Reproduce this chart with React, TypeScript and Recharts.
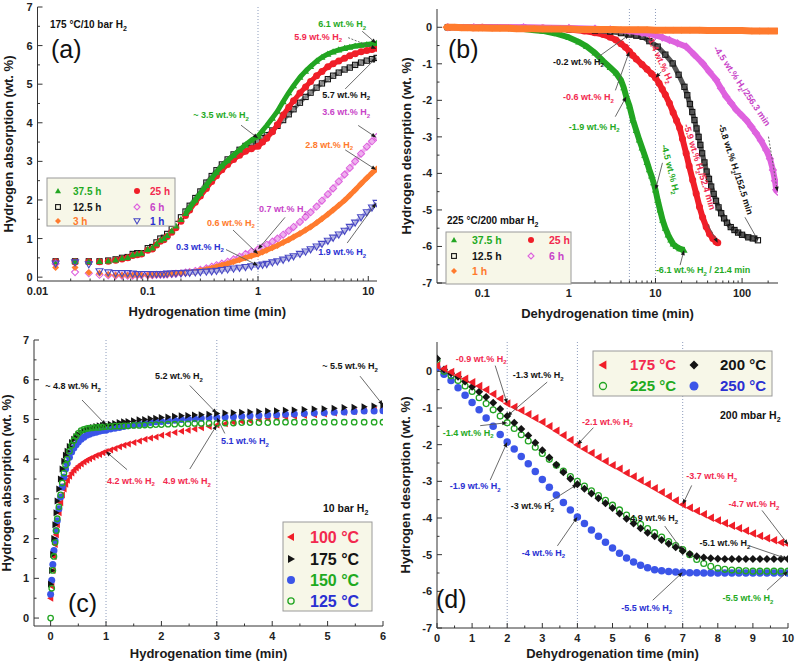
import React from 'react';
import { ComposedChart, Scatter, XAxis, YAxis, ReferenceLine, ReferenceDot } from 'recharts';

const FONT = '"Liberation Sans", Arial, Helvetica, sans-serif';

const GREEN = '#22a522';
const RED = '#f01e28';
const BLACK = '#141414';
const MAGENTA = '#de62de';
const ORANGE = '#ff7b2e';
const INDIGO = '#4848c4';
const BLUE = '#3b55e8';
const T_GREEN = '#1faa1f';
const T_RED = '#f2294f';
const T_MAG = '#c844c8';
const T_ORANGE = '#ff7a2c';
const T_BLUE = '#2a30d2';
const GUIDE = '#8d9cbc';

// ---- (a) absorption at 175 °C / 10 bar, log time (min)
const timeA = [
  0.0146, 0.0219, 0.0292, 0.0365, 0.0438, 0.0511, 0.0584, 0.0657, 0.073, 0.0803, 0.0876,
  0.1, 0.11, 0.12, 0.13, 0.14, 0.15, 0.165, 0.18, 0.2, 0.22, 0.24, 0.27, 0.3, 0.34, 0.38, 0.42, 0.47, 0.53, 0.6, 0.68, 0.77, 0.87, 1,
  1.1, 1.2, 1.35, 1.5, 1.69, 1.9, 2.1, 2.4, 2.7, 3, 3.4, 3.8, 4.3, 4.8, 5.4, 6.1, 6.8, 7.6, 8.6, 9.7, 10.8, 11.9,
];
const absA375 = [
  0.4, 0.41, 0.4, 0.41, 0.42, 0.45, 0.49, 0.51, 0.58, 0.6, 0.62,
  0.72, 0.76, 0.86, 0.96, 1.0, 1.08, 1.2, 1.33, 1.5, 1.65, 1.8, 2.0, 2.17, 2.38, 2.56, 2.72, 2.88, 3.02, 3.16, 3.3, 3.43, 3.55, 3.65,
  3.8, 3.93, 4.12, 4.3, 4.55, 4.78, 4.96, 5.18, 5.34, 5.46, 5.6, 5.7, 5.78, 5.84, 5.89, 5.93, 5.96, 5.99, 6.01, 6.03, 6.05, 6.06,
];
const absA25 = [
  0.4, 0.4, 0.4, 0.4, 0.41, 0.44, 0.47, 0.5, 0.56, 0.58, 0.6,
  0.7, 0.73, 0.83, 0.93, 0.97, 1.05, 1.16, 1.28, 1.45, 1.6, 1.74, 1.94, 2.1, 2.3, 2.48, 2.63, 2.78, 2.92, 3.05, 3.16, 3.26, 3.33, 3.39,
  3.5, 3.6, 3.77, 3.95, 4.2, 4.4, 4.57, 4.77, 4.93, 5.07, 5.22, 5.33, 5.45, 5.53, 5.6, 5.67, 5.74, 5.79, 5.84, 5.87, 5.9, 5.93,
];
const absA125 = [
  0.41, 0.41, 0.41, 0.41, 0.43, 0.46, 0.5, 0.52, 0.6, 0.62, 0.62,
  0.75, 0.78, 0.9, 1.0, 1.02, 1.12, 1.25, 1.38, 1.55, 1.7, 1.85, 2.05, 2.22, 2.45, 2.62, 2.77, 2.92, 3.05, 3.18, 3.3, 3.4, 3.47, 3.52,
  3.6, 3.68, 3.8, 3.92, 4.07, 4.22, 4.35, 4.52, 4.67, 4.78, 4.91, 5.02, 5.13, 5.22, 5.3, 5.38, 5.43, 5.5, 5.56, 5.61, 5.65, 5.68,
];
const absA6 = [
  0.35, 0.13, 0.1, 0.06, 0.05, 0.04, 0.04, 0.04, 0.04, 0.05, 0.05,
  0.05, 0.05, 0.06, 0.06, 0.07, 0.07, 0.08, 0.09, 0.1, 0.12, 0.13, 0.16, 0.19, 0.23, 0.27, 0.31, 0.35, 0.4, 0.46, 0.53, 0.6, 0.66, 0.72,
  0.78, 0.84, 0.92, 1.0, 1.1, 1.2, 1.3, 1.43, 1.56, 1.68, 1.83, 1.98, 2.15, 2.3, 2.48, 2.66, 2.83, 3.0, 3.2, 3.38, 3.52, 3.63,
];
const absA3 = [
  0.25, 0.25, 0.12, 0.1, 0.07, 0.05, 0.05, 0.05, 0.05, 0.05, 0.05,
  0.05, 0.05, 0.06, 0.06, 0.07, 0.07, 0.08, 0.09, 0.1, 0.11, 0.12, 0.14, 0.17, 0.2, 0.23, 0.27, 0.31, 0.35, 0.4, 0.45, 0.5, 0.55, 0.6,
  0.65, 0.7, 0.76, 0.82, 0.9, 0.97, 1.04, 1.13, 1.22, 1.3, 1.41, 1.51, 1.63, 1.74, 1.86, 1.99, 2.12, 2.26, 2.42, 2.57, 2.7, 2.8,
];
const absA1 = [
  0.35, 0.38, 0.33, 0.15, 0.12, 0.1, 0.1, 0.1, 0.09, 0.08, 0.08,
  0.08, 0.08, 0.08, 0.08, 0.08, 0.09, 0.09, 0.1, 0.1, 0.11, 0.11, 0.12, 0.13, 0.14, 0.15, 0.16, 0.18, 0.2, 0.22, 0.24, 0.26, 0.28, 0.3,
  0.32, 0.34, 0.38, 0.41, 0.45, 0.5, 0.54, 0.6, 0.66, 0.72, 0.79, 0.86, 0.94, 1.02, 1.1, 1.2, 1.3, 1.41, 1.55, 1.68, 1.8, 1.92,
];

// ---- (b) desorption at 225 °C / 200 mbar, log time (min)
const timeB375 = [0.04, 0.06, 0.1, 0.15, 0.2, 0.3, 0.4, 0.5, 0.7, 1, 1.3, 1.6, 2, 2.5, 3, 3.5, 4, 4.3, 4.6, 5, 5.5, 6, 6.5, 7, 7.5, 8, 8.5, 9, 9.5, 10, 10.6, 11.3, 12.1, 13, 14, 15, 16, 17.3, 19, 21.4];
const desB375 = [0, 0, 0, -0.01, -0.02, -0.05, -0.08, -0.1, -0.17, -0.28, -0.4, -0.52, -0.7, -0.93, -1.1, -1.25, -1.45, -1.65, -1.9, -2.15, -2.54, -2.82, -3.08, -3.3, -3.5, -3.7, -3.9, -4.07, -4.25, -4.45, -4.73, -5.0, -5.28, -5.5, -5.68, -5.82, -5.93, -6.0, -6.06, -6.1];
const timeB25 = [0.04, 0.1, 0.3, 0.5, 0.8, 1, 1.5, 2, 2.5, 3, 3.5, 4, 4.5, 5, 5.5, 6, 7, 8, 9, 10, 11, 12, 13, 14.5, 16, 17.5, 19, 20.5, 22.6, 24.5, 26.9, 29.5, 32.2, 35, 38.5, 42, 46, 50, 52.4];
const desB25 = [0, 0, -0.01, -0.02, -0.04, -0.06, -0.1, -0.15, -0.2, -0.27, -0.35, -0.45, -0.55, -0.66, -0.77, -0.87, -1.02, -1.15, -1.27, -1.38, -1.53, -1.7, -1.85, -2.08, -2.33, -2.55, -2.75, -3.05, -3.45, -3.8, -4.18, -4.55, -4.91, -5.2, -5.46, -5.65, -5.78, -5.87, -5.9];
const timeB125 = [0.04, 0.3, 1, 2, 3, 4, 5, 6, 7.1, 8.5, 10.6, 13, 15.8, 18.5, 21.6, 23.3, 25, 26.6, 28.2, 29.8, 31.5, 33, 34.6, 36.8, 39, 41.5, 44, 47, 50, 53.5, 57.4, 62, 67, 74, 81.7, 90, 100, 118, 133, 152.5];
const desB125 = [0, -0.02, -0.05, -0.09, -0.12, -0.16, -0.2, -0.23, -0.26, -0.38, -0.53, -0.75, -0.99, -1.3, -1.63, -1.86, -2.1, -2.32, -2.54, -2.77, -3.0, -3.22, -3.45, -3.7, -3.95, -4.15, -4.36, -4.56, -4.75, -4.93, -5.09, -5.23, -5.35, -5.47, -5.55, -5.62, -5.68, -5.75, -5.78, -5.83];
const timeB6 = [0.04, 0.08, 0.3, 1, 2, 3, 5, 7, 10, 12, 14.5, 18, 22.6, 28, 35.2, 42, 50.2, 57, 65.6, 75, 85.6, 98, 112, 128, 145, 165, 190, 210, 227, 240, 248, 256.3];
const desB6 = [0, 0, 0, -0.02, -0.04, -0.06, -0.1, -0.15, -0.22, -0.28, -0.35, -0.44, -0.53, -0.75, -0.99, -1.22, -1.44, -1.67, -1.9, -2.08, -2.26, -2.4, -2.54, -2.72, -2.9, -3.1, -3.36, -3.6, -3.91, -4.2, -4.45, -4.5];
const timeB1 = [0.038, 0.048, 0.058, 0.068, 0.078, 0.09, 0.1, 0.13, 0.16, 0.2, 0.25, 0.32, 0.4, 0.5, 0.63, 0.8, 1, 1.3, 1.6, 2, 2.5, 3.2, 4, 5, 6.3, 8, 10, 13, 16, 20, 25, 32, 40, 50, 63, 80, 100, 130, 160, 200, 256];
const desB1 = [0, 0, -0.01, -0.01, -0.02, -0.02, -0.02, -0.03, -0.03, -0.03, -0.04, -0.04, -0.04, -0.05, -0.05, -0.05, -0.05, -0.06, -0.06, -0.06, -0.06, -0.06, -0.07, -0.07, -0.07, -0.07, -0.08, -0.08, -0.08, -0.08, -0.08, -0.08, -0.09, -0.09, -0.09, -0.09, -0.09, -0.1, -0.1, -0.1, -0.1];

// ---- (c) absorption at 10 bar, linear time (min)
const timeC = [
  0, 0.02, 0.04, 0.06, 0.08, 0.1, 0.12, 0.15, 0.18, 0.21, 0.24, 0.27, 0.3, 0.34, 0.38, 0.42, 0.46, 0.5, 0.55, 0.6, 0.65, 0.7, 0.76, 0.82, 0.88, 0.94, 1.0,
  1.08, 1.16, 1.24, 1.32, 1.4, 1.5, 1.6, 1.7, 1.8, 1.9, 2.0,
  2.12, 2.24, 2.36, 2.48, 2.6, 2.72, 2.86, 3.0,
  3.15, 3.3, 3.45, 3.6, 3.76, 3.92, 4.08, 4.24, 4.4, 4.58, 4.76, 4.94, 5.12, 5.3, 5.48, 5.66, 5.84, 6.0,
];
const absC100 = [
  0.5, 0.8, 1.2, 1.55, 1.85, 2.1, 2.35, 2.65, 2.9, 3.1, 3.25, 3.37, 3.47, 3.57, 3.65, 3.72, 3.78, 3.83, 3.88, 3.93, 3.97, 4.01, 4.05, 4.09, 4.12, 4.16, 4.19,
  4.23, 4.27, 4.31, 4.35, 4.38, 4.42, 4.46, 4.5, 4.53, 4.56, 4.6,
  4.63, 4.67, 4.7, 4.73, 4.76, 4.79, 4.82, 4.86,
  4.89, 4.92, 4.95, 4.97, 5.0, 5.02, 5.04, 5.06, 5.08, 5.1, 5.12, 5.14, 5.16, 5.18, 5.2, 5.22, 5.24, 5.26,
];
const absC175 = [
  0.85, 1.2, 1.6, 2.0, 2.35, 2.65, 2.95, 3.25, 3.5, 3.75, 3.95, 4.1, 4.2, 4.32, 4.42, 4.5, 4.57, 4.62, 4.67, 4.72, 4.75, 4.78, 4.8, 4.82, 4.84, 4.85, 4.86,
  4.88, 4.9, 4.92, 4.94, 4.95, 4.97, 4.99, 5.0, 5.02, 5.03, 5.05,
  5.06, 5.08, 5.09, 5.1, 5.11, 5.12, 5.13, 5.15,
  5.16, 5.17, 5.18, 5.19, 5.2, 5.21, 5.22, 5.23, 5.24, 5.25, 5.26, 5.27, 5.28, 5.3, 5.31, 5.32, 5.34, 5.36,
];
const absC150 = [
  0.6, 0.95, 1.35, 1.7, 1.95, 2.2, 2.45, 2.75, 3.05, 3.3, 3.55, 3.75, 3.9, 4.05, 4.18, 4.28, 4.36, 4.43, 4.5, 4.55, 4.6, 4.63, 4.66, 4.68, 4.7, 4.72, 4.73,
  4.76, 4.78, 4.8, 4.82, 4.84, 4.86, 4.88, 4.9, 4.92, 4.94, 4.95,
  4.97, 4.98, 5.0, 5.01, 5.02, 5.03, 5.04, 5.05,
  5.06, 5.07, 5.08, 5.09, 5.1, 5.11, 5.12, 5.13, 5.14, 5.15, 5.16, 5.17, 5.18, 5.19, 5.2, 5.21, 5.21, 5.22,
];
const absC125 = [
  0, 0.75, 1.2, 1.55, 1.9, 2.2, 2.5, 2.8, 3.1, 3.4, 3.65, 3.85, 4.0, 4.2, 4.35, 4.47, 4.57, 4.65, 4.72, 4.75, 4.77, 4.78, 4.79, 4.8, 4.8, 4.81, 4.82,
  4.82, 4.83, 4.83, 4.84, 4.84, 4.85, 4.85, 4.86, 4.86, 4.87, 4.87,
  4.88, 4.88, 4.89, 4.89, 4.9, 4.9, 4.9, 4.9,
  4.91, 4.91, 4.92, 4.92, 4.92, 4.92, 4.93, 4.93, 4.93, 4.93, 4.93, 4.93, 4.93, 4.93, 4.93, 4.93, 4.93, 4.93,
];

// ---- (d) desorption at 200 mbar, linear time (min)
const timeD = [
  0, 0.2, 0.4, 0.6, 0.8, 1, 1.2, 1.4, 1.6, 1.8, 2,
  2.2, 2.4, 2.6, 2.8, 3, 3.2, 3.4, 3.6, 3.8, 4,
  4.2, 4.4, 4.6, 4.8, 5, 5.2, 5.4, 5.6, 5.8, 6,
  6.2, 6.4, 6.6, 6.8, 7, 7.2, 7.4, 7.6, 7.8, 8,
  8.2, 8.4, 8.6, 8.8, 9, 9.2, 9.4, 9.6, 9.8, 10,
];
const desD175 = [
  0.15, 0.07, -0.02, -0.1, -0.2, -0.3, -0.4, -0.5, -0.62, -0.75, -0.88,
  -0.97, -1.07, -1.17, -1.28, -1.38, -1.5, -1.62, -1.74, -1.87, -2.0,
  -2.12, -2.23, -2.34, -2.45, -2.56, -2.66, -2.77, -2.87, -2.98, -3.08,
  -3.19, -3.3, -3.41, -3.52, -3.63, -3.72, -3.81, -3.9, -3.99, -4.07,
  -4.14, -4.21, -4.28, -4.35, -4.42, -4.49, -4.55, -4.61, -4.67, -4.72,
];
const desD200 = [
  0.35, 0.05, -0.05, -0.15, -0.28, -0.42, -0.56, -0.7, -0.86, -1.03, -1.22,
  -1.4, -1.57, -1.75, -1.95, -2.15, -2.35, -2.55, -2.75, -2.93, -3.08,
  -3.2, -3.33, -3.46, -3.6, -3.73, -3.88, -4.02, -4.15, -4.28, -4.4,
  -4.5, -4.6, -4.7, -4.8, -4.9, -4.98, -5.04, -5.08, -5.1, -5.11,
  -5.12, -5.12, -5.12, -5.12, -5.12, -5.12, -5.12, -5.12, -5.12, -5.12,
];
const desD225 = [
  0.3, 0.0, -0.12, -0.25, -0.4, -0.55, -0.72, -0.88, -1.05, -1.22, -1.4,
  -1.56, -1.73, -1.9, -2.07, -2.24, -2.4, -2.56, -2.72, -2.87, -3.0,
  -3.13, -3.26, -3.39, -3.52, -3.65, -3.78, -3.92, -4.05, -4.17, -4.29,
  -4.4, -4.52, -4.64, -4.75, -4.86, -5.0, -5.13, -5.24, -5.32, -5.37,
  -5.4, -5.42, -5.43, -5.44, -5.45, -5.45, -5.45, -5.45, -5.45, -5.45,
];
const desD250 = [
  0.1, -0.08, -0.25, -0.45, -0.65, -0.85, -1.05, -1.27, -1.5, -1.72, -1.93,
  -2.12, -2.32, -2.52, -2.73, -2.95, -3.16, -3.37, -3.58, -3.78, -3.97,
  -4.15, -4.33, -4.5, -4.66, -4.82, -4.96, -5.09, -5.2, -5.29, -5.36,
  -5.41, -5.44, -5.46, -5.47, -5.48, -5.49, -5.49, -5.5, -5.5, -5.5,
  -5.5, -5.5, -5.5, -5.5, -5.5, -5.5, -5.5, -5.5, -5.5, -5.5,
];

// ---- tick values
const logMajorA = [0.01, 0.1, 1, 10];
const logMinorA = [0.02, 0.03, 0.04, 0.05, 0.06, 0.07, 0.08, 0.09, 0.2, 0.3, 0.4, 0.5, 0.6, 0.7, 0.8, 0.9, 2, 3, 4, 5, 6, 7, 8, 9];
const logMajorB = [0.1, 1, 10, 100];
const logMinorB = [0.04, 0.05, 0.06, 0.07, 0.08, 0.09, 0.2, 0.3, 0.4, 0.5, 0.6, 0.7, 0.8, 0.9, 2, 3, 4, 5, 6, 7, 8, 9, 20, 30, 40, 50, 60, 70, 80, 90, 200];
const absMajor = [0, 1, 2, 3, 4, 5, 6, 7];
const absMinor = [0.5, 1.5, 2.5, 3.5, 4.5, 5.5, 6.5];
const desMajor = [-7, -6, -5, -4, -3, -2, -1, 0];
const desMinor = [-6.5, -5.5, -4.5, -3.5, -2.5, -1.5, -0.5];
const timeMajorC = [0, 1, 2, 3, 4, 5, 6];
const timeMinorC = [0.5, 1.5, 2.5, 3.5, 4.5, 5.5];
const timeMajorD = [0, 1, 2, 3, 4, 5, 6, 7, 8, 9, 10];
const timeMinorD = [0.5, 1.5, 2.5, 3.5, 4.5, 5.5, 6.5, 7.5, 8.5, 9.5];

const pts = (xs: number[], ys: number[]) => xs.map((x, i) => ({ x, y: ys[i] }));

function Mark({ kind, cx, cy, s, color }: any) {
  const r = s / 2;
  const open = { fill: 'none', stroke: color, strokeWidth: 1.1 };
  const solid = { fill: color, stroke: 'none' };
  switch (kind) {
    case 'triUp':
      return <polygon points={`${cx},${cy - r} ${cx + r},${cy + r * 0.75} ${cx - r},${cy + r * 0.75}`} {...solid} />;
    case 'triDownOpen':
      return <polygon points={`${cx - r},${cy - r * 0.75} ${cx + r},${cy - r * 0.75} ${cx},${cy + r}`} {...open} />;
    case 'triLeft':
      return <polygon points={`${cx - r},${cy} ${cx + r * 0.75},${cy - r} ${cx + r * 0.75},${cy + r}`} {...solid} />;
    case 'triRight':
      return <polygon points={`${cx + r},${cy} ${cx - r * 0.75},${cy - r} ${cx - r * 0.75},${cy + r}`} {...solid} />;
    case 'squareOpen':
      return <rect x={cx - r * 0.8} y={cy - r * 0.8} width={r * 1.6} height={r * 1.6} {...open} />;
    case 'circle':
      return <circle cx={cx} cy={cy} r={r} {...solid} />;
    case 'circleOpen':
      return <circle cx={cx} cy={cy} r={r * 0.78} {...open} strokeWidth={1.3} />;
    case 'diamond':
      return <polygon points={`${cx},${cy - r} ${cx + r},${cy} ${cx},${cy + r} ${cx - r},${cy}`} {...solid} />;
    default:
      return <polygon points={`${cx},${cy - r} ${cx + r},${cy} ${cx},${cy + r} ${cx - r},${cy}`} {...open} />;
  }
}

function fmt(v: number) {
  return String(v);
}

function Tick(props: any) {
  const { x, y, payload, side, major } = props;
  const v = payload.value;
  const isMajor = major.some((m: number) => Math.abs(m - v) < 1e-9);
  const len = isMajor ? 5 : 2.5;
  const txt = { fontSize: 11, fontWeight: 'bold' as const, fill: '#222', fontFamily: FONT };
  if (side === 'bottom') {
    return (
      <g>
        <line x1={x} y1={y} x2={x} y2={y - len} stroke="#333" />
        {isMajor && <text x={x} y={y + 14} textAnchor="middle" {...txt}>{fmt(v)}</text>}
      </g>
    );
  }
  if (side === 'top') return <line x1={x} y1={y} x2={x} y2={y + len} stroke="#333" />;
  if (side === 'right') return <line x1={x} y1={y} x2={x - len} y2={y} stroke="#333" />;
  return (
    <g>
      <line x1={x} y1={y} x2={x + len} y2={y} stroke="#333" />
      {isMajor && <text x={x - 5} y={y + 4} textAnchor="end" {...txt}>{fmt(v)}</text>}
    </g>
  );
}

function Note({ cx, cy, n }: any) {
  if (cx == null || cy == null) return <g />;
  const sx = cx + n.ax;
  const sy = cy + n.ay;
  const ang = Math.atan2(cy - sy, cx - sx);
  const L = 5;
  const W = 2;
  const bx = cx - L * Math.cos(ang);
  const by = cy - L * Math.sin(ang);
  const px = -Math.sin(ang) * W;
  const py = Math.cos(ang) * W;
  const tx = cx + n.lx;
  const ty = cy + n.ly;
  return (
    <g>
      <line x1={sx} y1={sy} x2={bx} y2={by} stroke="#5a5a5a" strokeWidth={0.9} strokeDasharray={n.dash ? '2 1.5' : undefined} />
      <polygon points={`${cx},${cy} ${bx + px},${by + py} ${bx - px},${by - py}`} fill="#1a1a1a" />
      <text
        x={tx}
        y={ty}
        textAnchor="middle"
        fontSize={9}
        fontWeight="bold"
        fill={n.c}
        fontFamily={FONT}
        transform={n.rot ? `rotate(${n.rot} ${tx} ${ty})` : undefined}
      >
        {n.t}
        <tspan fontSize={6} dy={2.5}>2</tspan>
        {n.post ? <tspan dy={-2.5}>{n.post}</tspan> : null}
      </text>
    </g>
  );
}

// line: band width drawn under the markers, lineFrom: first point of the band
const seriesA = [
  { name: '12.5 h', xs: timeA, ys: absA125, kind: 'squareOpen', color: BLACK, label: BLACK, s: 6.5, line: 4, lineColor: '#8a8a8a', lineFrom: 20 },
  { name: '25 h', xs: timeA, ys: absA25, kind: 'circle', color: RED, label: T_RED, s: 7, line: 5, lineFrom: 20 },
  { name: '37.5 h', xs: timeA, ys: absA375, kind: 'triUp', color: GREEN, label: T_GREEN, s: 7, line: 5, lineFrom: 20 },
  { name: '6 h', xs: timeA, ys: absA6, kind: 'diamondOpen', color: MAGENTA, label: T_MAG, s: 7, line: 4, lineColor: '#eeb0ee', lineFrom: 20 },
  { name: '3 h', xs: timeA, ys: absA3, kind: 'diamond', color: ORANGE, label: T_ORANGE, s: 7, line: 5, lineFrom: 20 },
  { name: '1 h', xs: timeA, ys: absA1, kind: 'triDownOpen', color: INDIGO, label: T_BLUE, s: 7, line: 4, lineColor: '#b4b4e4', lineFrom: 20 },
];

const seriesB = [
  { name: '37.5 h', xs: timeB375, ys: desB375, kind: 'triUp', color: GREEN, label: T_GREEN, s: 7, line: 6, lineFrom: 0 },
  { name: '25 h', xs: timeB25, ys: desB25, kind: 'circle', color: RED, label: T_RED, s: 7, line: 6, lineFrom: 0 },
  { name: '12.5 h', xs: timeB125, ys: desB125, kind: 'squareOpen', color: BLACK, label: BLACK, s: 6.5, line: 5, lineColor: '#555', lineFrom: 0 },
  { name: '6 h', xs: timeB6, ys: desB6, kind: 'diamondOpen', color: MAGENTA, label: T_MAG, s: 7, line: 6, lineFrom: 0 },
  { name: '1 h', xs: timeB1, ys: desB1, kind: 'diamond', color: ORANGE, label: T_ORANGE, s: 7, line: 7, lineFrom: 0 },
];

const seriesC = [
  { name: '100 °C', xs: timeC, ys: absC100, kind: 'triLeft', color: RED, label: T_RED, s: 7 },
  { name: '150 °C', xs: timeC, ys: absC150, kind: 'circle', color: BLUE, label: T_GREEN, s: 7 },
  { name: '175 °C', xs: timeC, ys: absC175, kind: 'triRight', color: BLACK, label: BLACK, s: 7 },
  { name: '125 °C', xs: timeC, ys: absC125, kind: 'circleOpen', color: GREEN, label: T_BLUE, s: 7 },
];

const seriesD = [
  { name: '250 °C', xs: timeD, ys: desD250, kind: 'circle', color: BLUE, label: T_BLUE, s: 7.5 },
  { name: '225 °C', xs: timeD, ys: desD225, kind: 'circleOpen', color: GREEN, label: T_GREEN, s: 7.5 },
  { name: '200 °C', xs: timeD, ys: desD200, kind: 'diamond', color: BLACK, label: BLACK, s: 8 },
  { name: '175 °C', xs: timeD, ys: desD175, kind: 'triLeft', color: RED, label: T_RED, s: 8.5 },
];

const notesA = [
  { x: 11.8, y: 6.06, t: '6.1 wt.% H', c: T_GREEN, lx: -34, ly: -16, ax: -14, ay: -12 },
  { x: 11.8, y: 5.92, t: '5.9 wt.% H', c: T_RED, lx: -58, ly: -9, ax: -28, ay: -11, dash: true },
  { x: 11.8, y: 5.68, t: '5.7 wt.% H', c: BLACK, lx: -30, ly: 40, ax: -31, ay: 31 },
  { x: 1, y: 3.6, t: '~ 3.5 wt.% H', c: T_GREEN, lx: -37, ly: -20, ax: -17, ay: -13 },
  { x: 11.8, y: 3.62, t: '3.6 wt.% H', c: T_MAG, lx: -30, ly: -22, ax: -18, ay: -12 },
  { x: 11.8, y: 2.78, t: '2.8 wt.% H', c: T_ORANGE, lx: -47, ly: -22, ax: -31, ay: -20 },
  { x: 1, y: 0.72, t: '0.7 wt.% H', c: T_MAG, lx: 25, ly: -37, ax: 27, ay: -32 },
  { x: 1, y: 0.6, t: '0.6 wt.% H', c: T_ORANGE, lx: -27, ly: -28, ax: -25, ay: -24 },
  { x: 1, y: 0.3, t: '0.3 wt.% H', c: T_BLUE, lx: -58, ly: -16, ax: -32, ay: -16 },
  { x: 11.8, y: 1.92, t: '1.9 wt.% H', c: T_BLUE, lx: -34, ly: 52, ax: -29, ay: 40 },
];

const notesB = [
  { x: 5, y: -0.2, t: '-0.2 wt.% H', c: BLACK, lx: -51, ly: 30, ax: -32, ay: 23 },
  { x: 5, y: -0.66, t: '-0.6 wt.% H', c: T_RED, lx: -41, ly: 49, ax: -14, ay: 39 },
  { x: 4.6, y: -1.9, t: '-1.9 wt.% H', c: T_GREEN, lx: -32, ly: 33, ax: -11, ay: 20 },
  { x: 10, y: -1.38, t: '-1.4 wt.% H', c: T_RED, lx: 2, ly: -17, ax: 6, ay: -6, rot: 65 },
  { x: 10, y: -4.45, t: '-4.5 wt.% H', c: T_GREEN, lx: 12, ly: -20, ax: 7, ay: -27, rot: 76 },
  { x: 52.4, y: -5.9, t: '-5.9 wt.% H', post: '/52.4 min', c: T_RED, lx: -21, ly: -75, ax: -10, ay: -18, rot: 73 },
  { x: 152.5, y: -5.83, t: '-5.8 wt.% H', post: '/152.5 min', c: BLACK, lx: -25, ly: -70, ax: -13, ay: -23, rot: 72 },
  { x: 256.3, y: -4.5, t: '-4.5 wt.% H', post: '/256.3 min', c: T_MAG, lx: -38, ly: -104, ax: -9, ay: -55, rot: 56, dash: true },
  { x: 21.4, y: -6.1, t: '-6.1 wt.% H', post: ' / 21.4 min', c: T_GREEN, lx: 19, ly: 23, ax: -4, ay: 15 },
];

const notesC = [
  { x: 1, y: 4.86, t: '~ 4.8 wt.% H', c: BLACK, lx: -33, ly: -36, ax: -24, ay: -25 },
  { x: 3, y: 5.15, t: '5.2 wt.% H', c: BLACK, lx: -38, ly: -34, ax: -27, ay: -28 },
  { x: 6, y: 5.36, t: '~ 5.5 wt.% H', c: BLACK, lx: -33, ly: -36, ax: -23, ay: -29 },
  { x: 1, y: 4.19, t: '4.2 wt.% H', c: T_RED, lx: 25, ly: 32, ax: 21, ay: 18 },
  { x: 3, y: 4.86, t: '4.9 wt.% H', c: T_RED, lx: -30, ly: 59, ax: -27, ay: 44 },
  { x: 3, y: 5.05, t: '5.1 wt.% H', c: T_BLUE, lx: 28, ly: 27, ax: 8, ay: 16 },
];

const notesD = [
  { x: 2, y: -0.88, t: '-0.9 wt.% H', c: T_RED, lx: -26, ly: -42, ax: -12, ay: -38 },
  { x: 2, y: -1.22, t: '-1.3 wt.% H', c: BLACK, lx: 31, ly: -38, ax: 40, ay: -34 },
  { x: 2, y: -1.4, t: '-1.4 wt.% H', c: T_GREEN, lx: -39, ly: 13, ax: -27, ay: 3 },
  { x: 2, y: -1.93, t: '-1.9 wt.% H', c: T_BLUE, lx: -32, ly: 47, ax: -17, ay: 38 },
  { x: 4, y: -2.0, t: '-2.1 wt.% H', c: T_RED, lx: 30, ly: -20, ax: 16, ay: -17 },
  { x: 4, y: -3.08, t: '-3 wt.% H', c: BLACK, lx: -45, ly: 25, ax: -30, ay: 19 },
  { x: 4, y: -3.97, t: '-4 wt.% H', c: T_BLUE, lx: -34, ly: 39, ax: -20, ay: 29 },
  { x: 7, y: -3.63, t: '-3.7 wt.% H', c: T_RED, lx: 29, ly: -25, ax: 9, ay: -19 },
  { x: 7, y: -4.9, t: '-4.9 wt.% H', c: BLACK, lx: -30, ly: -30, ax: -18, ay: -25 },
  { x: 7, y: -5.48, t: '-5.5 wt.% H', c: T_BLUE, lx: -36, ly: 39, ax: -30, ay: 28 },
  { x: 10, y: -4.72, t: '-4.7 wt.% H', c: T_RED, lx: -34, ly: -37, ax: -26, ay: -34 },
  { x: 10, y: -5.12, t: '-5.1 wt.% H', c: BLACK, lx: -63, ly: -13, ax: -38, ay: -13 },
  { x: 10, y: -5.45, t: '-5.5 wt.% H', c: T_GREEN, lx: -40, ly: 30, ax: -21, ay: 19 },
];

const panels = [
  {
    id: 'a', left: 0, top: 0, margin: { top: 7, right: 21, left: 0, bottom: 0 }, yWidth: 37.5, xHeight: 52,
    xScale: 'log', xDomain: [0.01, 12], yDomain: [-0.1, 7],
    xMajor: logMajorA, xMinor: logMinorA, yMajor: absMajor, yMinor: absMinor,
    xTitle: 'Hydrogenation time (min)', yTitle: 'Hydrogen absorption (wt. %)', xTitleOffset: 17, yTitleOffset: 8,
    guides: [1], series: seriesA, notes: notesA,
  },
  {
    id: 'b', left: 398, top: 0, margin: { top: 9, right: 18, left: 0, bottom: 0 }, yWidth: 39, xHeight: 50,
    xScale: 'log', xDomain: [0.03, 260], yDomain: [-7, 0.5],
    xMajor: logMajorB, xMinor: logMinorB, yMajor: desMajor, yMinor: desMinor,
    xTitle: 'Dehydrogenation time (min)', yTitle: 'Hydrogen desorption (wt. %)', xTitleOffset: 15, yTitleOffset: 8,
    guides: [5, 10], series: seriesB, notes: notesB,
  },
  {
    id: 'c', left: 0, top: 333, margin: { top: 7, right: 15, left: 0, bottom: 0 }, yWidth: 34, xHeight: 40,
    xScale: 'linear', xDomain: [-0.3, 6], yDomain: [-0.2, 7],
    xMajor: timeMajorC, xMinor: timeMinorC, yMajor: absMajor, yMinor: absMinor,
    xTitle: 'Hydrogenation time (min)', yTitle: 'Hydrogen absorption (wt. %)', xTitleOffset: 8, yTitleOffset: 6,
    guides: [1, 3], series: seriesC, notes: notesC,
  },
  {
    id: 'd', left: 398, top: 333, margin: { top: 9, right: 8, left: 0, bottom: 0 }, yWidth: 39, xHeight: 38,
    xScale: 'linear', xDomain: [0, 10], yDomain: [-7, 0.8],
    xMajor: timeMajorD, xMinor: timeMinorD, yMajor: desMajor, yMinor: desMinor,
    xTitle: 'Dehydrogenation time (min)', yTitle: 'Hydrogen desorption (wt. %)', xTitleOffset: 8, yTitleOffset: 7,
    guides: [2, 4, 7], series: seriesD, notes: notesD,
  },
];

const titleAttrs = { fontSize: 13, fontWeight: 'bold', fill: '#1a1a1a', fontFamily: FONT };

function PanelChart({ p }: any) {
  const xTicks = [...p.xMajor, ...p.xMinor];
  const yTicks = [...p.yMajor, ...p.yMinor];
  const common = { type: 'number' as const, allowDataOverflow: true, interval: 0 as const, tickSize: 0, tickMargin: 0, tickLine: false, stroke: '#333' };
  const layers: any[] = [];
  p.series.forEach((s: any) => {
    const data = pts(s.xs, s.ys);
    if (s.line) {
      layers.push(
        <Scatter
          key={s.name + '-band'}
          data={data.slice(s.lineFrom)}
          dataKey="y"
          isAnimationActive={false}
          legendType="none"
          line={{ stroke: s.lineColor || s.color, strokeWidth: s.line, strokeLinejoin: 'round' }}
          shape={() => <g />}
        />
      );
    }
    layers.push(
      <Scatter
        key={s.name}
        name={s.name}
        data={data}
        dataKey="y"
        isAnimationActive={false}
        shape={(d: any) => <Mark kind={s.kind} cx={d.cx} cy={d.cy} s={s.s} color={s.color} />}
      />
    );
  });
  return (
    <div style={{ position: 'absolute', left: p.left, top: p.top }}>
      <ComposedChart width={398} height={333} margin={p.margin}>
        <XAxis
          xAxisId={0}
          dataKey="x"
          scale={p.xScale}
          domain={p.xDomain}
          ticks={xTicks}
          height={p.xHeight}
          {...common}
          tick={(t: any) => <Tick {...t} side="bottom" major={p.xMajor} />}
          label={{ value: p.xTitle, position: 'insideBottom', offset: p.xTitleOffset, ...titleAttrs }}
        />
        <XAxis
          xAxisId="top"
          orientation="top"
          scale={p.xScale}
          domain={p.xDomain}
          ticks={xTicks}
          height={0}
          {...common}
          tick={(t: any) => <Tick {...t} side="top" major={p.xMajor} />}
        />
        <YAxis
          yAxisId={0}
          dataKey="y"
          domain={p.yDomain}
          ticks={yTicks}
          width={p.yWidth}
          {...common}
          tick={(t: any) => <Tick {...t} side="left" major={p.yMajor} />}
          label={{ value: p.yTitle, angle: -90, position: 'insideLeft', offset: p.yTitleOffset, ...titleAttrs, style: { textAnchor: 'middle' } }}
        />
        <YAxis
          yAxisId="r"
          orientation="right"
          domain={p.yDomain}
          ticks={yTicks}
          width={0}
          {...common}
          tick={(t: any) => <Tick {...t} side="right" major={p.yMajor} />}
        />
        {p.guides.map((g: number) => (
          <ReferenceLine key={g} x={g} stroke={GUIDE} strokeDasharray="1 2" />
        ))}
        {layers}
      </ComposedChart>
    </div>
  );
}

// annotations sit in a second, transparent chart with the same scales so they draw above the markers
function NotesChart({ p }: any) {
  const m = p.margin;
  return (
    <div style={{ position: 'absolute', left: p.left, top: p.top, pointerEvents: 'none' }}>
      <ComposedChart
        width={398}
        height={333}
        margin={{ top: m.top, right: m.right, left: m.left + p.yWidth, bottom: p.xHeight }}
      >
        <XAxis hide dataKey="x" type="number" scale={p.xScale} domain={p.xDomain} allowDataOverflow />
        <YAxis hide dataKey="y" type="number" domain={p.yDomain} allowDataOverflow />
        {p.notes.map((n: any, i: number) => (
          <ReferenceDot
            key={i}
            x={n.x}
            y={n.y}
            r={0}
            ifOverflow="visible"
            shape={(d: any) => <Note cx={d.cx} cy={d.cy} n={n} />}
          />
        ))}
      </ComposedChart>
    </div>
  );
}

const legends = [
  { series: seriesA, order: ['37.5 h', '25 h', '12.5 h', '6 h', '3 h', '1 h'], box: [47, 178, 128, 48], cols: [[58, 73], [137, 150]], rows: [191, 207, 221], font: 10, mark: 6 },
  { series: seriesB, order: ['37.5 h', '25 h', '12.5 h', '6 h', '1 h'], box: [446, 232, 125, 52], cols: [[454, 472], [531, 549]], rows: [240, 256, 271], font: 10.5, mark: 6 },
  { series: seriesC, order: ['100 °C', '175 °C', '150 °C', '125 °C'], box: [283, 522, 89, 89], cols: [[291, 310]], rows: [537, 559, 580, 601], font: 16, mark: 8 },
  { series: seriesD, order: ['175 °C', '200 °C', '225 °C', '250 °C'], box: [593, 351, 179, 45], cols: [[603, 630], [694, 720]], rows: [365, 386], font: 15, mark: 9 },
];

function Overlay() {
  const bold = { fontWeight: 'bold' as const, fontFamily: FONT, fill: '#111' };
  return (
    <svg width={796} height={666} style={{ position: 'absolute', left: 0, top: 0, pointerEvents: 'none' }}>
      <text x={51} y={58} fontSize={25} fontFamily={FONT} fill="#111">(a)</text>
      <text x={448} y={58} fontSize={25} fontFamily={FONT} fill="#111">(b)</text>
      <text x={68} y={612} fontSize={25} fontFamily={FONT} fill="#111">(c)</text>
      <text x={436} y={608} fontSize={25} fontFamily={FONT} fill="#111">(d)</text>
      <text x={50} y={28} fontSize={10} {...bold}>175 °C/10 bar H<tspan fontSize={7} dy={2.5}>2</tspan></text>
      <text x={447} y={224} fontSize={10} {...bold}>225 °C/200 mbar H<tspan fontSize={7} dy={2.5}>2</tspan></text>
      <text x={323} y={512} fontSize={10.5} {...bold}>10 bar H<tspan fontSize={7} dy={2.5}>2</tspan></text>
      <text x={720} y={419} fontSize={10.5} {...bold}>200 mbar H<tspan fontSize={7} dy={2.5}>2</tspan></text>
      {legends.map((lg, li) => {
        const [bx, by, bw, bh] = lg.box;
        return (
          <g key={li}>
            <rect x={bx} y={by} width={bw} height={bh} fill="#f7f7e8" stroke="#9a9a9a" />
            {lg.order.map((name, i) => {
              const s: any = lg.series.find((q: any) => q.name === name);
              const col = i % lg.cols.length;
              const row = Math.floor(i / lg.cols.length);
              const [mx, tx] = lg.cols[col];
              const y = lg.rows[row];
              return (
                <g key={name}>
                  <Mark kind={s.kind} cx={mx} cy={y} s={lg.mark} color={s.color} />
                  <text x={tx} y={y + lg.font * 0.36} fontSize={lg.font} fontWeight="bold" fontFamily={FONT} fill={s.label}>{name}</text>
                </g>
              );
            })}
          </g>
        );
      })}
    </svg>
  );
}

export default function App() {
  return (
    <div style={{ position: 'absolute', left: 0, top: 0, width: 796, height: 666, background: '#fff', fontFamily: FONT }}>
      {panels.map((p) => (
        <PanelChart key={p.id} p={p} />
      ))}
      {panels.map((p) => (
        <NotesChart key={p.id + '-notes'} p={p} />
      ))}
      <Overlay />
    </div>
  );
}
